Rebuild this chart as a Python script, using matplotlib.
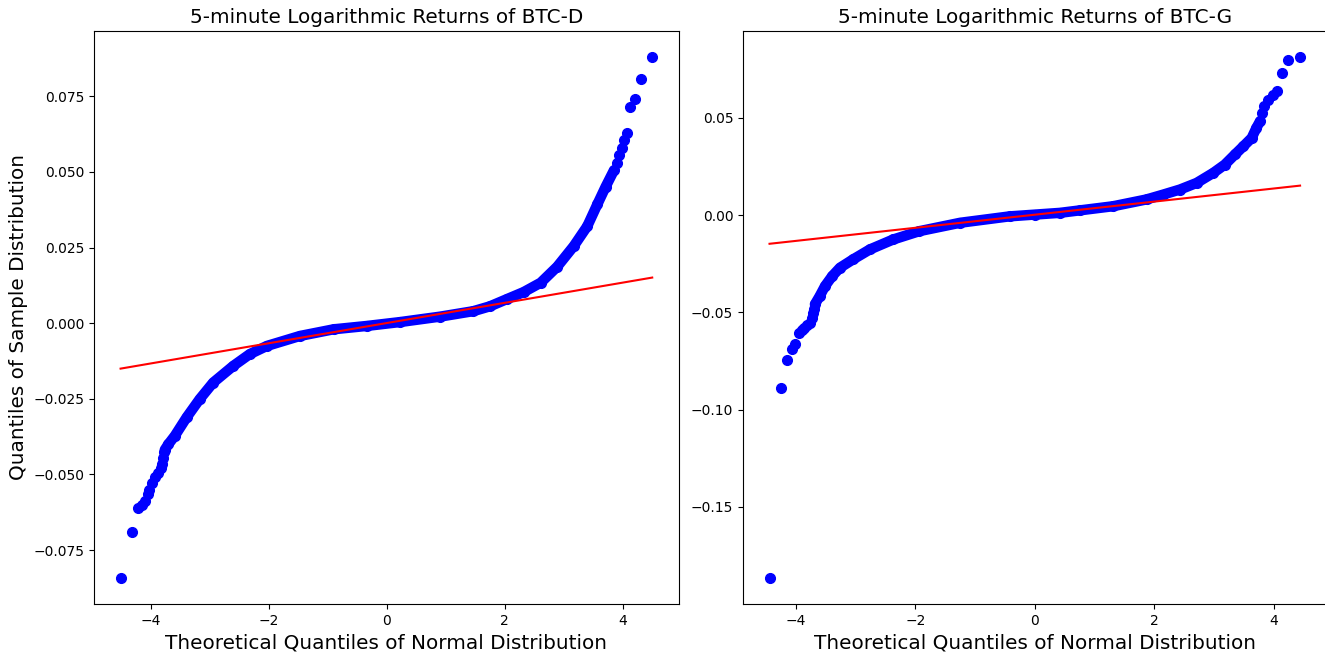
import numpy as np
import matplotlib
matplotlib.use('Agg')
import matplotlib.pyplot as plt

# values (theoretical quantile, sample quantile)
# BTC-D
d_low_x = [-4.51, -4.32, -4.21, -4.15, -4.09, -4.05, -4.02, -3.97, -3.93, -3.88, -3.83, -3.80, -3.79, -3.78]
d_low_y = [-0.0842, -0.0689, -0.0612, -0.0601, -0.0588, -0.0565, -0.0550, -0.0527, -0.0507, -0.0494, -0.0478, -0.0466, -0.0445, -0.0425]
d_mid_x = [-3.76, -3.70, -3.59, -3.39, -3.17, -2.94, -2.60, -2.32, -2.03, -1.47, -0.90, -0.34,
           0.23, 0.91, 1.47, 1.75, 2.04, 2.32, 2.61, 2.89, 3.17, 3.40, 3.57, 3.71, 3.85]
d_mid_y = [-0.0418, -0.0400, -0.0372, -0.0311, -0.0251, -0.0196, -0.0141, -0.0102, -0.0075, -0.0042, -0.0020, -0.0009,
           0.0004, 0.0022, 0.0040, 0.0056, 0.0080, 0.0103, 0.0134, 0.0187, 0.0255, 0.0321, 0.0393, 0.0451, 0.0505]
d_high_x = [3.90, 3.94, 3.98, 4.03, 4.08, 4.13, 4.20, 4.31, 4.50]
d_high_y = [0.0531, 0.0556, 0.0578, 0.0605, 0.0630, 0.0716, 0.0742, 0.0806, 0.0880]
d_line_x = [-4.51, 4.50]
d_line_y = [-0.0150, 0.0151]

# BTC-G
g_low_x = [-4.44, -4.25, -4.14, -4.06, -4.01, -3.95, -3.90, -3.87, -3.82, -3.76, -3.73, -3.71, -3.69]
g_low_y = [-0.1865, -0.0891, -0.0744, -0.0689, -0.0660, -0.0604, -0.0590, -0.0578, -0.0566, -0.0552, -0.0530, -0.0505, -0.0480]
g_mid_x = [-3.68, -3.60, -3.51, -3.39, -3.26, -3.04, -2.76, -2.37, -1.93, -1.25, -0.42,
           0.0, 0.42, 0.76, 1.31, 1.87, 2.15, 2.43, 2.71, 2.99, 3.18, 3.35, 3.49, 3.63, 3.71, 3.77]
g_mid_y = [-0.0458, -0.0416, -0.0364, -0.0313, -0.0270, -0.0227, -0.0176, -0.0125, -0.0082, -0.0039, -0.0006,
           0.0003, 0.0012, 0.0025, 0.0046, 0.0081, 0.0106, 0.0132, 0.0166, 0.0218, 0.0260, 0.0312, 0.0354, 0.0397, 0.0449, 0.0483]
g_high_x = [3.80, 3.83, 3.91, 3.99, 4.06, 4.13, 4.24, 4.44]
g_high_y = [0.0526, 0.0560, 0.0594, 0.0620, 0.0640, 0.0731, 0.0799, 0.0813]
g_line_x = [-4.44, 4.44]
g_line_y = [-0.0147, 0.0152]

panels = [
    ('5-minute Logarithmic Returns of BTC-D', d_low_x, d_low_y, d_mid_x, d_mid_y, d_high_x, d_high_y, d_line_x, d_line_y),
    ('5-minute Logarithmic Returns of BTC-G', g_low_x, g_low_y, g_mid_x, g_mid_y, g_high_x, g_high_y, g_line_x, g_line_y),
]

fig = plt.figure(figsize=(13.25, 6.54), dpi=100)
ax1 = fig.add_axes([94 / 1325, 50 / 654, 584.8 / 1325, 573 / 654])
ax2 = fig.add_axes([743 / 1325, 50 / 654, 583.6 / 1325, 573 / 654])

for ax, (title, lx, ly, mx, my, hx, hy, rx, ry) in zip([ax1, ax2], panels):
    # dense part of the sample: markers merge into a thick band
    ax.plot(mx, my, color='blue', linewidth=7.5, solid_capstyle='round', solid_joinstyle='round')
    ax.plot(mx, my, 'bo', markersize=7)
    ax.plot(lx, ly, 'bo', markersize=7)
    ax.plot(hx, hy, 'bo', markersize=7)
    ax.plot(rx, ry, 'r-', linewidth=1.5)
    ax.set_title(title, fontsize=14.4)
    ax.set_xlabel('Theoretical Quantiles of Normal Distribution', fontsize=14.4)

ax1.set_ylabel('Quantiles of Sample Distribution', fontsize=14.4)

fig.savefig('out.png', dpi=100)
